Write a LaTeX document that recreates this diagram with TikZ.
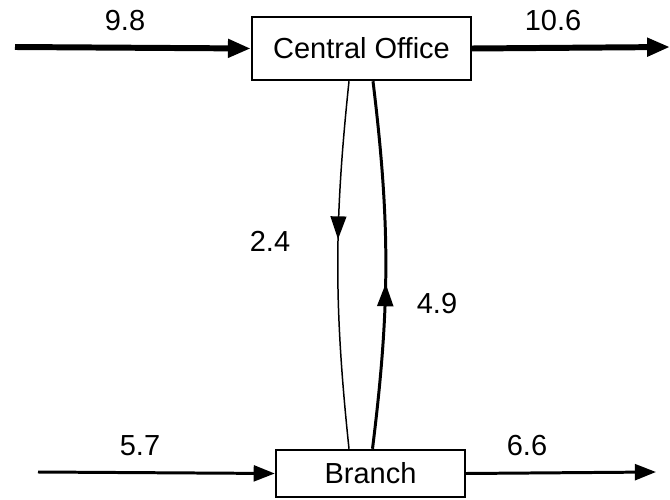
\documentclass[tikz,border=0pt]{standalone}
\usepackage{fontspec}
\setmainfont{Liberation Sans}
\usetikzlibrary{arrows.meta,decorations.markings}

\tikzset{
  unit/.style={draw,line width=1.4pt,inner sep=0pt,font=\fontsize{16.5}{18}\selectfont},
  val/.style={font=\fontsize{16.5}{18}\selectfont},
  bigflow/.style={line width=3.4pt,-{Triangle[length=13pt,width=10pt]}},
  flow/.style={line width=1.7pt,-{Triangle[length=12pt,width=9pt]}},
  midarrow/.style={postaction={decorate,decoration={markings,
      mark=at position #1 with {\arrow{Triangle[length=13pt,width=9pt]}}}}}
}

\begin{document}
\begin{tikzpicture}[x=0.02cm,y=-0.02cm]
\useasboundingbox (0,0) rectangle (670,500);

% units
\node[unit,minimum width=4.38cm,minimum height=1.26cm] (co) at (361.5,48.5) {Central Office};
\node[unit,minimum width=3.78cm,minimum height=0.94cm] (br) at (370.5,473.5) {Branch};

% free ends
\coordinate (coin) at (15,47);
\coordinate (coout) at (670,47);
\coordinate (brin) at (38,472);
\coordinate (brout) at (656,472);

% external flows
\draw[bigflow] (coin) -- (co.west);
\draw[bigflow] (co.east) -- (coout);
\draw[flow] (brin) -- (br.west);
\draw[flow] (br.east) -- (brout);

% internal flows
\draw[line width=0.85pt,midarrow=0.43] ([xshift=-0.25cm]co.south) to[bend right=6] ([xshift=-0.43cm]br.north);
\draw[line width=1.7pt,midarrow=0.45] ([xshift=0.04cm]br.north) to[bend right=7] ([xshift=0.23cm]co.south);

% values
\node[val] (v98) at (125,21) {9.8};
\node[val] (v106) at (553,21) {10.6};
\node[val] (v57) at (140,446) {5.7};
\node[val] (v66) at (527,446) {6.6};
\node[val] (v24) at (270,241) {2.4};
\node[val] (v49) at (437,304) {4.9};

\end{tikzpicture}
\end{document}
